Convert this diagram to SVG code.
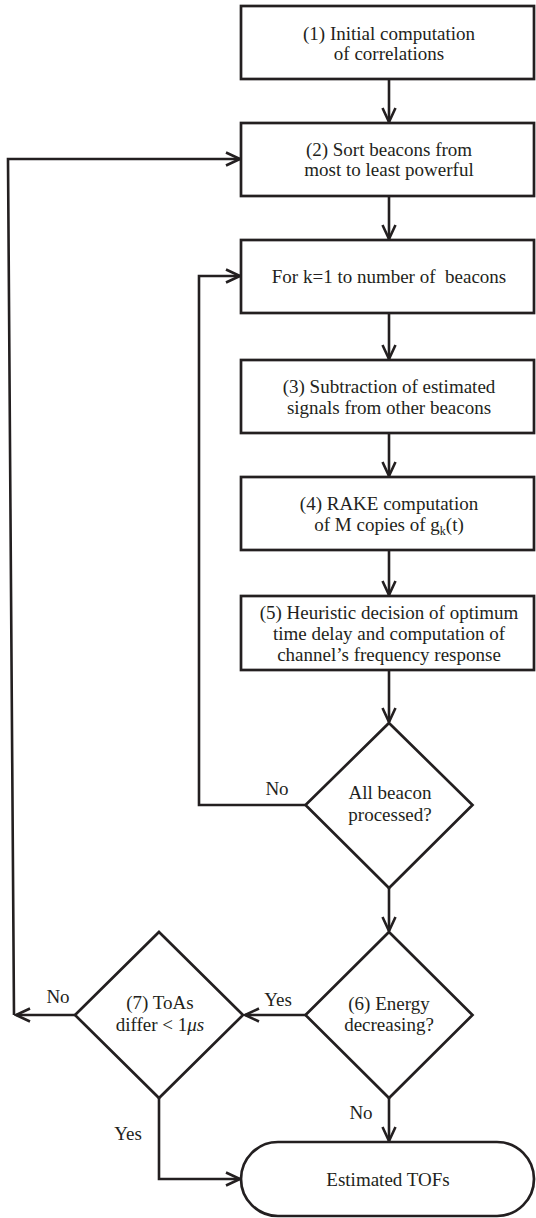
<svg xmlns="http://www.w3.org/2000/svg" width="536" height="1218" viewBox="0 0 536 1218">
<style>
.n{fill:#fff;stroke:#231f20;stroke-width:2.7}
.c{fill:none;stroke:#231f20;stroke-width:2.6}
text{font-family:'Liberation Serif','DejaVu Serif',serif;font-size:19px;fill:#231f20;text-anchor:middle}
</style>
<defs>
<marker id="a" viewBox="-16 -9 18 18" refX="0" refY="0" markerWidth="18" markerHeight="18" markerUnits="userSpaceOnUse" orient="auto">
<path d="M-14,-6.5 L0,0 L-14,6.5" fill="none" stroke="#231f20" stroke-width="2.6"/>
</marker>
</defs>
<rect width="536" height="1218" fill="#fff"/>
<g font-family="Liberation Serif, serif">
<g id="connectors">
<path class="c" d="M389,79 V122" marker-end="url(#a)"/>
<path class="c" d="M389,196 V239" marker-end="url(#a)"/>
<path class="c" d="M389,313 V359" marker-end="url(#a)"/>
<path class="c" d="M389,433 V476" marker-end="url(#a)"/>
<path class="c" d="M389,550 V595" marker-end="url(#a)"/>
<path class="c" d="M389,670 V722" marker-end="url(#a)"/>
<path class="c" d="M389,888 V931" marker-end="url(#a)"/>
<path class="c" d="M389,1098 V1141" marker-end="url(#a)"/>
<path class="c" d="M305,805 H199 V276 H240" marker-end="url(#a)"/>
<path class="c" d="M306,1015 H245" marker-end="url(#a)"/>
<path class="c" d="M76,1015 H16" marker-end="url(#a)"/>
<path class="c" d="M14,1015 L8,159 H240" marker-end="url(#a)"/>
<path class="c" d="M159,1098 V1179 H240" marker-end="url(#a)"/>
<text x="277" y="795">No</text>
<text x="278" y="1006">Yes</text>
<text x="58" y="1003">No</text>
<text x="361" y="1119">No</text>
<text x="128" y="1140">Yes</text>
</g>
<g id="n1">
<rect class="n" x="241" y="6" width="293" height="73"/>
<text x="389" y="39.5">(1) Initial computation</text>
<text x="389" y="59.5">of correlations</text>
</g>
<g id="n2">
<rect class="n" x="241" y="123" width="293" height="73"/>
<text x="389" y="155.5">(2) Sort beacons from</text>
<text x="389" y="176">most to least powerful</text>
</g>
<g id="n-for">
<rect class="n" x="241" y="240" width="293" height="73"/>
<text x="389" y="282.5" xml:space="preserve">For k=1 to number of  beacons</text>
</g>
<g id="n3">
<rect class="n" x="241" y="360" width="293" height="73"/>
<text x="389" y="393">(3) Subtraction of estimated</text>
<text x="389" y="413.5">signals from other beacons</text>
</g>
<g id="n4">
<rect class="n" x="241" y="477" width="293" height="73"/>
<text x="389" y="510">(4) RAKE computation</text>
<text x="389" y="531">of M copies of g<tspan font-size="12" dy="4">k</tspan><tspan dy="-4">(t)</tspan></text>
</g>
<g id="n5">
<rect class="n" x="241" y="596" width="293" height="74"/>
<text x="389" y="619">(5) Heuristic decision of optimum</text>
<text x="389" y="640">time delay and computation of</text>
<text x="389" y="661">channel’s frequency response</text>
</g>
<g id="d1">
<polygon class="n" points="389,723 472.5,805 389,888 305.5,805"/>
<text x="390" y="799">All beacon</text>
<text x="390" y="821">processed?</text>
</g>
<g id="d6">
<polygon class="n" points="389,932 472.5,1015 389,1098 305.5,1015"/>
<text x="389" y="1010">(6) Energy</text>
<text x="389" y="1031">decreasing?</text>
</g>
<g id="d7">
<polygon class="n" points="159,932 243,1015 159,1098 75,1015"/>
<text x="160" y="1009">(7) ToAs</text>
<text x="160" y="1031">differ &lt; 1<tspan font-style="italic">μs</tspan></text>
</g>
<g id="end">
<rect class="n" x="241" y="1142" width="293" height="74" rx="37" ry="37"/>
<text x="388" y="1186">Estimated TOFs</text>
</g>
</g>
</svg>
